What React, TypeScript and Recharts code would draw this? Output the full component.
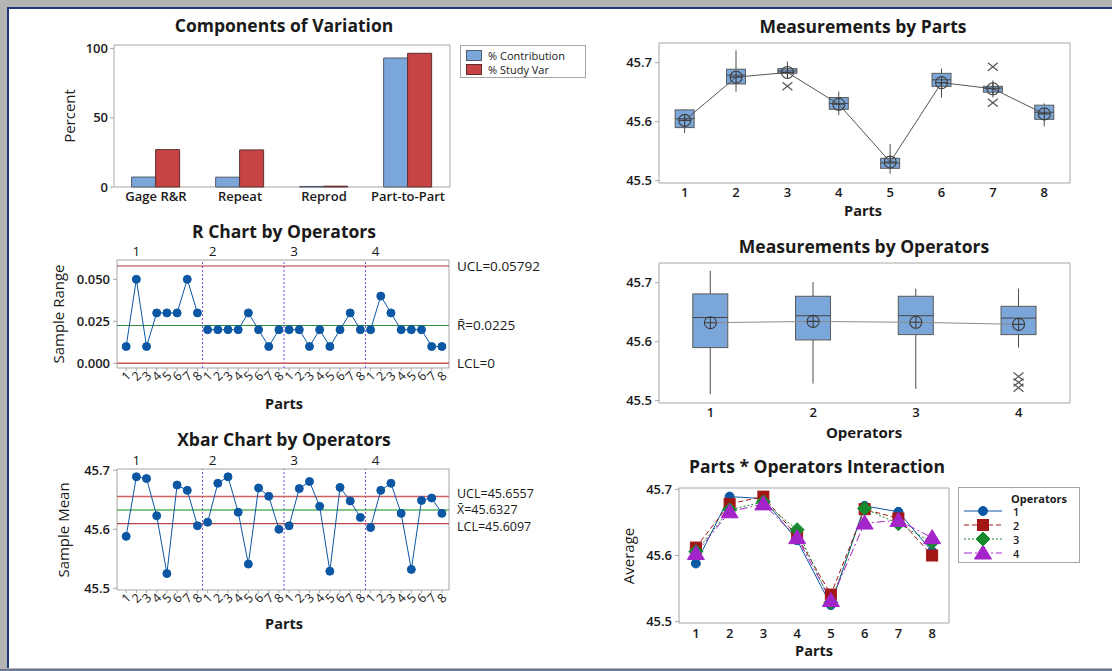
import React from "react";
import {
  BarChart,
  Bar,
  LineChart,
  Line,
  ComposedChart,
  XAxis,
  YAxis,
  ReferenceArea,
  ReferenceLine,
} from "recharts";

const FONT = '"Open Sans", "Noto Sans", "DejaVu Sans", sans-serif';
const INK = "#1a1a1a";
const FRAME = "#a6a6a6";
const POINT_BLUE = "#0b57a4";
const BOX_FILL = "#7ba6da";

// Components of variation (%)
const COMPONENTS = ["Gage R&R", "Repeat", "Reprod", "Part-to-Part"];
const PCT_CONTRIBUTION = [7.2, 7.1, 0.4, 93.2];
const PCT_STUDY_VAR = [27.0, 26.8, 0.6, 96.6];
const COMPONENT_SERIES = ["% Contribution", "% Study Var"];

const PARTS = ["1", "2", "3", "4", "5", "6", "7", "8"];
const OPERATORS = ["1", "2", "3", "4"];

// sample ranges by operator, parts 1..8
const RANGE_OP1 = [0.01, 0.05, 0.01, 0.03, 0.03, 0.03, 0.05, 0.03];
const RANGE_OP2 = [0.02, 0.02, 0.02, 0.02, 0.03, 0.02, 0.01, 0.02];
const RANGE_OP3 = [0.02, 0.02, 0.01, 0.02, 0.01, 0.02, 0.03, 0.02];
const RANGE_OP4 = [0.02, 0.04, 0.03, 0.02, 0.02, 0.02, 0.01, 0.01];

// sample means by operator, parts 1..8
const MEAN_OP1 = [45.588, 45.689, 45.686, 45.623, 45.525, 45.675, 45.666, 45.606];
const MEAN_OP2 = [45.612, 45.678, 45.689, 45.629, 45.541, 45.67, 45.656, 45.6];
const MEAN_OP3 = [45.606, 45.669, 45.681, 45.639, 45.529, 45.671, 45.648, 45.62];
const MEAN_OP4 = [45.603, 45.666, 45.678, 45.627, 45.532, 45.649, 45.653, 45.627];

const R_UCL = 0.05792;
const R_BAR = 0.0225;
const R_LCL = 0;
const X_UCL = 45.6557;
const X_BAR = 45.6327;
const X_LCL = 45.6097;

// box plot stats by part
const PART_WHISKER_LO = [45.581, 45.651, 45.68, 45.611, 45.512, 45.641, 45.641, 45.592];
const PART_Q1 = [45.59, 45.664, 45.682, 45.621, 45.521, 45.66, 45.65, 45.604];
const PART_MEDIAN = [45.605, 45.679, 45.686, 45.631, 45.53, 45.671, 45.657, 45.616];
const PART_Q3 = [45.62, 45.689, 45.69, 45.641, 45.538, 45.682, 45.66, 45.628];
const PART_WHISKER_HI = [45.621, 45.721, 45.702, 45.651, 45.562, 45.69, 45.67, 45.631];
const PART_OUTLIERS = [[], [], [45.66], [], [], [], [45.693, 45.632], []];

// box plot stats by operator
const OP_WHISKER_LO = [45.511, 45.529, 45.52, 45.59];
const OP_Q1 = [45.59, 45.603, 45.612, 45.612];
const OP_MEDIAN = [45.641, 45.644, 45.644, 45.64];
const OP_Q3 = [45.681, 45.677, 45.677, 45.66];
const OP_WHISKER_HI = [45.72, 45.701, 45.69, 45.69];
const OP_OUTLIERS = [[], [], [], [45.541, 45.531, 45.522]];

const MEANS_BY_OP = [MEAN_OP1, MEAN_OP2, MEAN_OP3, MEAN_OP4];
const RANGES_BY_OP = [RANGE_OP1, RANGE_OP2, RANGE_OP3, RANGE_OP4];

const OP_COLORS = ["#0b57a4", "#a31616", "#168a2d", "#a324c9"];
const OP_DASH = ["", "5 3", "2 2", "8 3 2 3"];

const tickStyle = { fill: INK, fontSize: 13, fontWeight: 600, fontFamily: FONT };

const avg = (xs: number[]) => xs.reduce((a, b) => a + b, 0) / xs.length;

function Txt({ x, y, size = 13, weight = 400, rotate = 0, children }: any) {
  return (
    <div
      style={{
        position: "absolute",
        left: x,
        top: y,
        transform: `translate(-50%, -50%) rotate(${rotate}deg)`,
        fontSize: size,
        fontWeight: weight,
        lineHeight: 1,
        whiteSpace: "nowrap",
        color: INK,
        fontFamily: FONT,
      }}
    >
      {children}
    </div>
  );
}

// draws whiskers, box, median and outliers of one group from the bar's range
const boxShape = (boxW: number) => (props: any) => {
  const { x, y, width, height, payload } = props;
  const [lo, hi] = payload.range;
  const k = height / (hi - lo);
  const py = (v: number) => y + (hi - v) * k;
  const cx = x + width / 2;
  const h = boxW / 2;
  return (
    <g>
      <line x1={cx} x2={cx} y1={py(hi)} y2={py(lo)} stroke="#4d4d4d" strokeWidth={1} />
      <rect x={cx - h} y={py(payload.q3)} width={boxW} height={py(payload.q1) - py(payload.q3)} fill={BOX_FILL} stroke="#5a5a5a" strokeWidth={1} />
      <line x1={cx - h} x2={cx + h} y1={py(payload.median)} y2={py(payload.median)} stroke="#454545" strokeWidth={1} />
      {payload.outliers.map((v: number, i: number) => (
        <g key={i} stroke="#555" strokeWidth={1.2}>
          <line x1={cx - 5} x2={cx + 5} y1={py(v) - 4} y2={py(v) + 4} />
          <line x1={cx - 5} x2={cx + 5} y1={py(v) + 4} y2={py(v) - 4} />
        </g>
      ))}
    </g>
  );
};

const meanDot = (p: any) => {
  const { cx, cy, index } = p;
  if (cx == null || cy == null) return <g key={index} />;
  return (
    <g key={index} stroke="#3d3d3d" strokeWidth={1.1}>
      <circle cx={cx} cy={cy} r={6} fill="none" />
      <line x1={cx - 6} x2={cx + 6} y1={cy} y2={cy} />
      <line x1={cx} x2={cx} y1={cy - 6} y2={cy + 6} />
    </g>
  );
};

const marker = (kind: number, cx: number, cy: number, color: string, key?: any) => {
  if (kind === 0) return <circle key={key} cx={cx} cy={cy} r={4.5} fill={color} stroke={color} />;
  if (kind === 1) return <rect key={key} x={cx - 5.5} y={cy - 5.5} width={11} height={11} fill={color} stroke={color} />;
  if (kind === 2)
    return <polygon key={key} points={`${cx},${cy - 7} ${cx + 7},${cy} ${cx},${cy + 7} ${cx - 7},${cy}`} fill={color} stroke={color} />;
  return <polygon key={key} points={`${cx},${cy - 8} ${cx + 8.5},${cy + 6} ${cx - 8.5},${cy + 6}`} fill={color} stroke={color} />;
};

function ControlChart({ top, series, plotH, domain, ticks, fmt, limits, labelSize }: any) {
  const n = PARTS.length;
  const rows = series.flatMap((vals: number[], op: number) =>
    vals.map((v, j) => ({ idx: op * n + j + 1, [`s${op}`]: v }))
  );
  const xDomain = [0.1, rows.length + 0.7];
  const labelAt = OPERATORS.map((_, i) => (i === 0 ? 2 : i * n + 1.5));
  return (
    <div style={{ position: "absolute", left: 20, top }}>
      <LineChart width={560} height={plotH + 50} data={rows} margin={{ top: 5, right: 131, bottom: 3, left: 35 }}>
        <XAxis
          type="number"
          dataKey="idx"
          domain={xDomain}
          allowDataOverflow
          ticks={rows.map((r: any) => r.idx)}
          interval={0}
          height={22}
          tickSize={3}
          tickMargin={5}
          axisLine={false}
          tickLine={{ stroke: FRAME }}
          tick={(p: any) => (
            <text
              key={p.index}
              x={p.x}
              y={p.y}
              transform={`rotate(-45 ${p.x} ${p.y})`}
              textAnchor="middle"
              dominantBaseline="central"
              fontSize={12.5}
              fill={INK}
              fontFamily={FONT}
            >
              {PARTS[(p.payload.value - 1) % n]}
            </text>
          )}
        />
        <XAxis
          xAxisId="top"
          orientation="top"
          type="number"
          dataKey="idx"
          domain={xDomain}
          allowDataOverflow
          ticks={labelAt}
          interval={0}
          height={20}
          tickSize={0}
          tickMargin={4}
          axisLine={false}
          tickLine={false}
          tick={(p: any) => (
            <text key={p.index} x={p.x} y={p.y} textAnchor="middle" fontSize={13.5} fill={INK} fontFamily={FONT}>
              {OPERATORS[p.index]}
            </text>
          )}
        />
        <YAxis
          domain={domain}
          ticks={ticks}
          tickFormatter={fmt}
          width={62}
          tickSize={4}
          tickMargin={3}
          axisLine={false}
          tickLine={{ stroke: FRAME }}
          tick={tickStyle}
          allowDataOverflow
        />
        <ReferenceArea x1={xDomain[0]} x2={xDomain[1]} y1={domain[0]} y2={domain[1]} fill="none" fillOpacity={0} stroke={FRAME} ifOverflow="visible" />
        {OPERATORS.slice(1).map((_, i) => (
          <ReferenceLine key={`d${i}`} x={(i + 1) * n + 0.5} stroke="#7a52dc" strokeDasharray="2 2" strokeWidth={1} />
        ))}
        {limits.map((l: any) => (
          <ReferenceLine
            key={l.text}
            y={l.y}
            stroke={l.color}
            strokeWidth={l.w}
            label={{ value: l.text, position: "right", offset: 8, dy: l.dy || 0, fill: INK, fontSize: labelSize, fontFamily: FONT }}
          />
        ))}
        {series.map((_: any, op: number) => (
          <Line
            key={op}
            dataKey={`s${op}`}
            stroke={POINT_BLUE}
            strokeWidth={1}
            dot={{ r: 4, fill: POINT_BLUE, stroke: POINT_BLUE, strokeWidth: 1 }}
            activeDot={false}
            connectNulls={false}
            isAnimationActive={false}
          />
        ))}
      </LineChart>
    </div>
  );
}

const BOX_DOMAIN = [45.4961, 45.7334];

function BoxPanel({ top, rows, boxW, lineColor }: any) {
  return (
    <div style={{ position: "absolute", left: 600, top }}>
      <ComposedChart width={480} height={175} data={rows} margin={{ top: 13, right: 10, bottom: 2, left: 4 }}>
        <XAxis dataKey="name" interval={0} height={20} tickSize={0} tickMargin={5} axisLine={false} tickLine={false} tick={tickStyle} />
        <YAxis
          domain={BOX_DOMAIN}
          ticks={[45.5, 45.6, 45.7]}
          tickFormatter={(v: number) => v.toFixed(1)}
          width={55}
          tickSize={4}
          tickMargin={3}
          axisLine={false}
          tickLine={{ stroke: FRAME }}
          tick={tickStyle}
          allowDataOverflow
        />
        <ReferenceArea
          x1={rows[0].name}
          x2={rows[rows.length - 1].name}
          y1={BOX_DOMAIN[0]}
          y2={BOX_DOMAIN[1]}
          fill="none"
          fillOpacity={0}
          stroke={FRAME}
          ifOverflow="visible"
        />
        <Bar dataKey="range" shape={boxShape(boxW)} isAnimationActive={false} />
        <Line dataKey="mean" stroke={lineColor} strokeWidth={1} dot={meanDot} activeDot={false} isAnimationActive={false} />
      </ComposedChart>
    </div>
  );
}

export default function App() {
  const compRows = COMPONENTS.map((name, i) => ({ name, contribution: PCT_CONTRIBUTION[i], studyVar: PCT_STUDY_VAR[i] }));

  const partRows = PARTS.map((name, i) => ({
    name,
    range: [PART_WHISKER_LO[i], PART_WHISKER_HI[i]],
    q1: PART_Q1[i],
    median: PART_MEDIAN[i],
    q3: PART_Q3[i],
    outliers: PART_OUTLIERS[i],
    mean: avg(MEANS_BY_OP.map((m) => m[i])),
  }));

  const opRows = OPERATORS.map((name, i) => ({
    name,
    range: [OP_WHISKER_LO[i], OP_WHISKER_HI[i]],
    q1: OP_Q1[i],
    median: OP_MEDIAN[i],
    q3: OP_Q3[i],
    outliers: OP_OUTLIERS[i],
    mean: avg(MEANS_BY_OP[i]),
  }));

  const interRows = PARTS.map((name, i) => {
    const row: any = { name };
    OPERATORS.forEach((_, op) => (row[`op${op}`] = MEANS_BY_OP[op][i]));
    return row;
  });

  const compDomain = [0, 102.6];
  const interDomain = [45.498, 45.702];

  return (
    <div style={{ position: "absolute", left: 0, top: 0, width: 1112, height: 671, background: "#b4b4b4", overflow: "hidden", fontFamily: FONT }}>
      <div style={{ position: "absolute", left: 7, top: 7, width: 1105, height: 661, background: "#fff", borderLeft: "2px solid #1c3a75", borderTop: "2px solid #1c3a75", boxSizing: "border-box" }} />
      <div style={{ position: "absolute", left: 0, bottom: 0, width: 1112, height: 2, background: "#687895" }} />

      {/* Components of Variation */}
      <div style={{ position: "absolute", left: 40, top: 30 }}>
        <BarChart width={420} height={190} data={compRows} margin={{ top: 15, right: 10, bottom: 3, left: 10 }} barGap={0} barCategoryGap="21%">
          <XAxis dataKey="name" interval={0} height={30} tickSize={0} tickMargin={5} axisLine={false} tickLine={false} tick={tickStyle} />
          <YAxis domain={compDomain} ticks={[0, 50, 100]} width={64} tickSize={4} tickMargin={2} axisLine={false} tickLine={{ stroke: FRAME }} tick={tickStyle} />
          <ReferenceArea
            x1={COMPONENTS[0]}
            x2={COMPONENTS[COMPONENTS.length - 1]}
            y1={compDomain[0]}
            y2={compDomain[1]}
            fill="none"
            fillOpacity={0}
            stroke={FRAME}
            ifOverflow="visible"
          />
          <Bar dataKey="contribution" fill="#7ba6da" stroke="#4f5b6c" isAnimationActive={false} />
          <Bar dataKey="studyVar" fill="#c84343" stroke="#5c2f2f" isAnimationActive={false} />
        </BarChart>
      </div>
      <div style={{ position: "absolute", left: 460, top: 45, width: 126, height: 33, border: `1px solid ${FRAME}`, boxSizing: "border-box", background: "#fff" }}>
        {COMPONENT_SERIES.map((s, i) => (
          <div key={s} style={{ position: "absolute", left: 5, top: 3 + i * 14, display: "flex", alignItems: "center", height: 13 }}>
            <div style={{ width: 16, height: 11, background: i === 0 ? "#7ba6da" : "#c84343", border: `1px solid ${i === 0 ? "#4f5b6c" : "#5c2f2f"}`, boxSizing: "border-box" }} />
            <span style={{ marginLeft: 6, fontSize: 11, color: INK, fontFamily: FONT }}>{s}</span>
          </div>
        ))}
      </div>
      <Txt x={284} y={26} size={17.5} weight={700}>Components of Variation</Txt>
      <Txt x={69} y={116} size={15} weight={500} rotate={-90}>Percent</Txt>

      {/* R chart */}
      <ControlChart
        top={235}
        series={RANGES_BY_OP}
        plotH={108}
        domain={[-0.0028, 0.0615]}
        ticks={[0, 0.025, 0.05]}
        fmt={(v: number) => v.toFixed(3)}
        labelSize={13.5}
        limits={[
          { y: R_UCL, text: `UCL=${R_UCL}`, color: "#b2353b", w: 1 },
          { y: R_BAR, text: `R\u0304=${R_BAR}`, color: "#2b8a3e", w: 1 },
          { y: R_LCL, text: `LCL=${R_LCL}`, color: "#c85a5a", w: 1.5 },
        ]}
      />
      <Txt x={284} y={232} size={17.5} weight={700}>R Chart by Operators</Txt>
      <Txt x={58} y={314} size={15} weight={500} rotate={-90}>Sample Range</Txt>
      <Txt x={284} y={404} size={14.5} weight={700}>Parts</Txt>

      {/* Xbar chart */}
      <ControlChart
        top={444}
        series={MEANS_BY_OP}
        plotH={121}
        domain={[45.4971, 45.7022]}
        ticks={[45.5, 45.6, 45.7]}
        fmt={(v: number) => v.toFixed(1)}
        labelSize={12.5}
        limits={[
          { y: X_UCL, text: `UCL=${X_UCL}`, color: "#d06060", w: 1.5, dy: -3 },
          { y: X_BAR, text: `X\u0304=${X_BAR}`, color: "#58b45c", w: 1.5 },
          { y: X_LCL, text: `LCL=${X_LCL}`, color: "#b84848", w: 1.2, dy: 3 },
        ]}
      />
      <Txt x={284} y={440} size={17.5} weight={700}>Xbar Chart by Operators</Txt>
      <Txt x={63} y={530} size={15} weight={500} rotate={-90}>Sample Mean</Txt>
      <Txt x={284} y={624} size={14.5} weight={700}>Parts</Txt>

      {/* Measurements by Parts */}
      <BoxPanel top={30} rows={partRows} boxW={19} lineColor="#555" />
      <Txt x={863} y={27} size={17.5} weight={700}>Measurements by Parts</Txt>
      <Txt x={863} y={211} size={14.5} weight={700}>Parts</Txt>

      {/* Measurements by Operators */}
      <BoxPanel top={250} rows={opRows} boxW={35} lineColor="#8a8a8a" />
      <Txt x={864} y={247} size={17.5} weight={700}>Measurements by Operators</Txt>
      <Txt x={864} y={432} size={15} weight={700}>Operators</Txt>

      {/* Interaction */}
      <div style={{ position: "absolute", left: 600, top: 475 }}>
        <LineChart width={490} height={173} data={interRows} margin={{ top: 13, right: 141, bottom: 3, left: 19 }}>
          <XAxis dataKey="name" scale="band" interval={0} height={22} tickSize={0} tickMargin={6} axisLine={false} tickLine={false} tick={tickStyle} />
          <YAxis
            domain={interDomain}
            ticks={[45.5, 45.6, 45.7]}
            tickFormatter={(v: number) => v.toFixed(1)}
            width={60}
            tickSize={4}
            tickMargin={3}
            axisLine={false}
            tickLine={{ stroke: FRAME }}
            tick={tickStyle}
            allowDataOverflow
          />
          <ReferenceArea
            x1={PARTS[0]}
            x2={PARTS[PARTS.length - 1]}
            y1={interDomain[0]}
            y2={interDomain[1]}
            fill="none"
            fillOpacity={0}
            stroke={FRAME}
            ifOverflow="visible"
          />
          {OPERATORS.map((_, op) => (
            <Line
              key={op}
              dataKey={`op${op}`}
              stroke={OP_COLORS[op]}
              strokeWidth={1}
              strokeDasharray={OP_DASH[op] || undefined}
              dot={(p: any) => (p.cx == null ? <g key={p.index} /> : marker(op, p.cx, p.cy, OP_COLORS[op], p.index))}
              activeDot={false}
              isAnimationActive={false}
            />
          ))}
        </LineChart>
      </div>
      <div style={{ position: "absolute", left: 958, top: 487, width: 122, height: 76, border: `1px solid ${FRAME}`, boxSizing: "border-box", background: "#fff" }}>
        <div style={{ position: "absolute", left: 80, top: 10, transform: "translate(-50%, -50%)", fontSize: 11, fontWeight: 700, color: INK, fontFamily: FONT, whiteSpace: "nowrap" }}>
          Operators
        </div>
        {OPERATORS.map((op, i) => (
          <div key={op} style={{ position: "absolute", left: 4, top: 16 + i * 14, height: 14, display: "flex", alignItems: "center" }}>
            <svg width={40} height={14}>
              <line x1={1} x2={39} y1={7} y2={7} stroke={OP_COLORS[i]} strokeWidth={1} strokeDasharray={OP_DASH[i] || undefined} />
              {marker(i, 20, 7, OP_COLORS[i])}
            </svg>
            <span style={{ marginLeft: 10, fontSize: 11, fontWeight: 600, color: INK, fontFamily: FONT }}>{op}</span>
          </div>
        ))}
      </div>
      <Txt x={817} y={467} size={17.5} weight={700}>Parts * Operators Interaction</Txt>
      <Txt x={628} y={556} size={15} weight={500} rotate={-90}>Average</Txt>
      <Txt x={814} y={651} size={14.5} weight={700}>Parts</Txt>
    </div>
  );
}
